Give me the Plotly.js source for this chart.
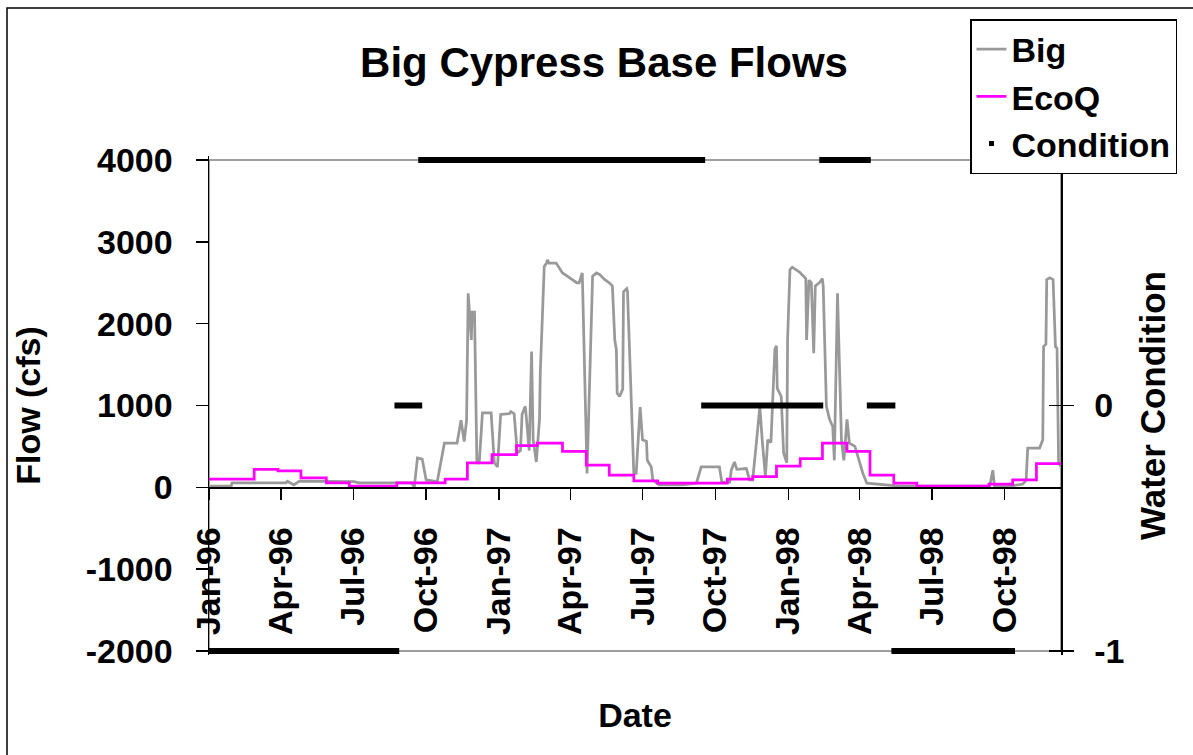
<!DOCTYPE html>
<html>
<head>
<meta charset="utf-8">
<script src="https://cdn.plot.ly/plotly-3.0.1.min.js"></script>
<style>html,body{margin:0;padding:0;background:#fff;}#chart{width:1193px;height:755px;}</style>
</head>
<body>
<div id="chart"></div>
<script>
// Day offsets are days since 1996-01-01
const START = Date.UTC(1996, 0, 1);

// Big Cypress daily flow (cfs), sampled at visible turning points
const bigDay = [0,28,29,97,99,107,114,183,189,256,259,263,269,274,288,297,313,318,322,325,327,331,332,335,338,341,345,356,360,364,368,379,381,385,389,393,395,399,400,403,404,407,409,413,417,418,423,426,427,429,438,442,446,452,458,464,467,471,477,484,489,493,499,505,509,512,514,515,518,522,523,527,528,532,536,539,544,547,552,553,558,560,568,597,615,621,644,647,657,659,663,666,678,682,686,691,695,698,702,705,709,714,716,717,722,725,729,730,733,736,745,753,754,757,760,763,765,770,774,775,779,783,787,789,793,798,801,805,808,815,820,825,830,855,871,985,989,991,1014,1027,1031,1033,1048,1052,1053,1056,1057,1061,1065,1068,1070,1072,1075];
const bigFlow = [15,15,55,55,75,30,75,70,55,55,0,360,345,90,70,540,540,820,560,820,2370,1800,2140,2140,300,300,910,910,300,250,890,900,925,900,420,450,890,990,900,500,450,1660,580,310,830,1400,2700,2740,2780,2740,2740,2680,2620,2580,2540,2500,2500,2620,170,2580,2620,2600,2540,2500,2460,1800,1680,1150,1110,1200,2390,2430,2400,1190,170,170,980,580,560,330,250,90,30,30,50,250,250,65,65,210,310,220,230,90,90,580,990,580,130,580,550,1690,1730,1210,1110,420,300,1800,2660,2690,2630,2550,1800,2530,2500,1640,2460,2500,2550,2450,990,830,740,330,2370,580,330,830,540,500,330,170,50,30,15,15,210,15,20,40,90,480,480,580,1720,1750,2540,2560,2540,1720,1700,300,250];

// EcoQ step values (cfs): start day of each step and its value
const ecoDay  = [0,57,87,116,148,177,237,298,326,357,388,414,446,476,505,536,566,654,686,716,746,774,805,834,864,893,984,1014,1044,1075];
const ecoFlow = [100,220,200,115,55,15,55,100,300,400,510,540,440,270,150,80,50,100,130,260,350,540,440,150,50,15,40,90,290,290];

// Water condition periods: start day, end day, condition value
const condStart = [0,234,264,621,770,830,861];
const condEnd   = [240,269,626,775,835,866,1017];
const condValue = [-1,0,1,0,1,0,-1];

const xRangeDays = [0, 1075];
const yTicks = [-2000,-1000,0,1000,2000,3000,4000];
const y2Ticks = [-1,0,1];
const y2TickText = ['-1','0',''];   // the "1" label is hidden behind the legend

const toDate = d => new Date(START + d * 864e5).toISOString().slice(0, 10);

const condX = [], condY = [];
for (let i = 0; i < condStart.length; i++) {
  condX.push(toDate(condStart[i]), toDate(condEnd[i]), null);
  condY.push(condValue[i], condValue[i], null);
}

const FONT = 'Arial, "Liberation Sans", sans-serif';

const traces = [
  {x: bigDay.map(toDate), y: bigFlow, name: 'Big', type: 'scatter', mode: 'lines',
   line: {color: '#999999', width: 2.75}, legendgroup: 'a', xaxis: 'x', yaxis: 'y'},
  {x: ecoDay.map(toDate), y: ecoFlow, name: 'EcoQ', type: 'scatter', mode: 'lines',
   line: {color: '#FF00FF', width: 2.75, shape: 'hv'}, legendgroup: 'b', xaxis: 'x', yaxis: 'y'},
  {x: condX, y: condY, name: 'Condition', type: 'scatter', mode: 'lines',
   line: {color: '#000000', width: 6}, showlegend: false, legendgroup: 'c', xaxis: 'x', yaxis: 'y2'},
  {x: [null], y: [null], name: 'Condition', type: 'scatter', mode: 'markers',
   marker: {color: '#000000', size: 5, symbol: 'square'}, legendgroup: 'c', xaxis: 'x', yaxis: 'y2'},
  {x: [null], y: [null], type: 'scatter', mode: 'lines', showlegend: false, hoverinfo: 'skip', xaxis: 'x', yaxis: 'y3'}
];

// Pixel geometry: flow 4000 at y=160, -2000 at y=651; the plot box is padded by 4 px so thick condition lines are not clipped
const W = 1193, H = 755, L = 209, R = 1061;
const T = 156, B = 655;
const pxPerUnit = (651 - 160) / 6000;
const pad = 4 / pxPerUnit;
const yRange = [-2000 - pad, 4000 + pad];
const y2Range = yRange.map(v => (v - 1000) / 3000);
const px2x = p => (p - L) / (R - L);
const px2y = p => (B - p) / (B - T);

const layout = {
  width: W, height: H, autosize: false,
  margin: {l: L, r: W - R, t: T, b: H - B, pad: 0},
  paper_bgcolor: '#ffffff', plot_bgcolor: 'rgba(0,0,0,0)',
  font: {family: FONT, size: 34, color: '#000000', weight: 'bold'},
  showlegend: true,
  title: {text: 'Big Cypress Base Flows', x: px2x(604), xref: 'paper', xanchor: 'center',
          y: 1 - 62 / H, yref: 'container', yanchor: 'middle',
          font: {family: FONT, size: 42, color: '#000000', weight: 'bold'}},
  xaxis: {
    type: 'date', range: [toDate(xRangeDays[0]), toDate(xRangeDays[1])],
    tick0: '1996-01-01', dtick: 'M3', tickformat: '%b-%y', tickangle: -90,
    anchor: 'free', position: px2y(487.3),
    showline: true, linecolor: '#000000', linewidth: 1.5,
    ticks: 'outside', ticklen: 11, tickwidth: 1.5, tickcolor: '#000000',
    ticklabelstandoff: 14,
    tickfont: {family: FONT, size: 34, color: '#000000', weight: 'bold'},
    showgrid: false, zeroline: false,
    title: {text: 'Date', standoff: 69, font: {family: FONT, size: 34, weight: 'bold'}}
  },
  yaxis: {
    range: yRange, tickvals: yTicks, ticktext: yTicks.map(String),
    showline: true, linecolor: '#000000', linewidth: 1.5,
    ticks: 'outside', ticklen: 12, tickwidth: 1.5, tickcolor: '#000000',
    ticklabelstandoff: 16,
    tickfont: {family: FONT, size: 34, color: '#000000', weight: 'bold'},
    showgrid: false, zeroline: false,
    title: {text: 'Flow (cfs)', standoff: 35, font: {family: FONT, size: 34, weight: 'bold'}}
  },
  yaxis2: {
    range: y2Range, tickvals: y2Ticks, ticktext: y2TickText,
    overlaying: 'y', side: 'right', anchor: 'x',
    showline: true, linecolor: '#000000', linewidth: 1.5,
    ticks: 'outside', ticklen: 11, tickwidth: 1.5, tickcolor: '#000000',
    ticklabelstandoff: 14,
    tickfont: {family: FONT, size: 34, color: '#000000', weight: 'bold'},
    showgrid: false, zeroline: false,
    title: {text: 'Water Condition', standoff: 17, font: {family: FONT, size: 35, weight: 'bold'}}
  },
  yaxis3: {
    range: y2Range, tickvals: y2Ticks, showticklabels: false,
    overlaying: 'y', side: 'right', anchor: 'x',
    showline: false, ticks: 'inside', ticklen: 12, tickwidth: 1.5, tickcolor: '#000000',
    showgrid: false, zeroline: false
  },
  legend: {
    x: px2x(970), y: px2y(19), xanchor: 'left', yanchor: 'top',
    bgcolor: '#ffffff', bordercolor: '#000000', borderwidth: 1.5,
    font: {family: FONT, size: 34, color: '#000000', weight: 'bold'},
    tracegroupgap: 6, traceorder: 'normal'
  },
  shapes: [
    {type: 'rect', xref: 'paper', yref: 'y', x0: 0, x1: 1, y0: -2000, y1: 4000,
     line: {color: '#808080', width: 1.5}, layer: 'below'},
    {type: 'rect', xref: 'paper', yref: 'paper', x0: px2x(7), x1: px2x(1210), y0: px2y(8), y1: px2y(770),
     line: {color: '#000000', width: 1.5}, layer: 'below'}
  ]
};

Plotly.newPlot('chart', traces, layout, {displayModeBar: false, staticPlot: true});
</script>
</body>
</html>
